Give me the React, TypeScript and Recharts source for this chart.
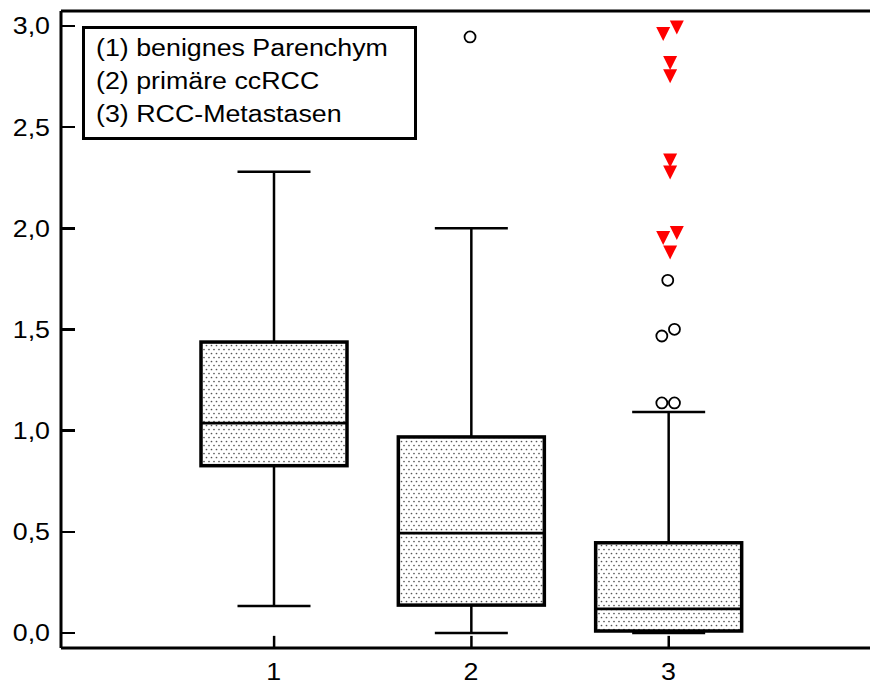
import {
  Bar,
  ComposedChart,
  ReferenceLine,
  Scatter,
  XAxis,
  YAxis,
} from 'recharts'

// box plot statistics per group
const groupX = [1, 2, 3]
const groupLabels = ['1', '2', '3']
const minVals = [0.133, 0.0, 0.0]
const q1Vals = [0.827, 0.138, 0.01]
const medianVals = [1.037, 0.494, 0.119]
const q3Vals = [1.438, 0.969, 0.446]
const maxVals = [2.279, 2.0, 1.092]

// open circle outliers
const circleX = [1.993, 2.965, 3.029, 2.965, 3.029, 2.995]
const circleY = [2.946, 1.137, 1.137, 1.468, 1.501, 1.743]

// red triangle extremes
const triX = [2.972, 3.041, 3.007, 3.007, 3.007, 3.007, 2.972, 3.041, 3.007]
const triY = [2.96, 2.993, 2.817, 2.752, 2.335, 2.276, 1.952, 1.977, 1.881]

const yTicks = [0, 0.5, 1, 1.5, 2, 2.5, 3]
const yTickLabels = ['0,0', '0,5', '1,0', '1,5', '2,0', '2,5', '3,0']

const legendLines = ['(1) benignes Parenchym', '(2) primäre ccRCC', '(3) RCC-Metastasen']

const Y_DOMAIN: [number, number] = [-0.074, 3.074]
const X_DOMAIN: [number, number] = [-0.08, 4.02]
// inward x tick length in axis units (~12px)
const X_TICK_LEN = 0.06

const WIDTH = 870
const HEIGHT = 686
const MARGIN_TOP = 11
const AXIS_W = 61
const AXIS_H = 38
const PLOT_H = HEIGHT - MARGIN_TOP - AXIS_H
const FONT = '"Liberation Sans", Arial, sans-serif'
const FONT_SIZE = 23.5
const STRETCH = 1.14

const boxData = groupX.map((x, i) => ({
  x,
  label: groupLabels[i],
  min: minVals[i],
  q1: q1Vals[i],
  median: medianVals[i],
  q3: q3Vals[i],
  max: maxVals[i],
}))

const circleData = circleX.map((x, i) => ({ x, y: circleY[i] }))
const triData = triX.map((x, i) => ({ x, y: triY[i] }))

// same linear mapping as the y axis, used for the inward tick marks overlay
const yPix = (v: number) =>
  MARGIN_TOP + ((Y_DOMAIN[1] - v) / (Y_DOMAIN[1] - Y_DOMAIN[0])) * PLOT_H

function BoxShape(props: any) {
  const { x, y, width, height, payload } = props
  const { min, q1, median, q3, max } = payload
  const span = max - min
  const py = (v: number) => y + (height * (max - v)) / span
  const cx = x + width / 2
  const cap = width / 4
  return (
    <g>
      <line x1={cx} x2={cx} y1={py(max)} y2={py(q3)} stroke="#000" strokeWidth={2.5} />
      <line x1={cx} x2={cx} y1={py(q1)} y2={py(min)} stroke="#000" strokeWidth={2.5} />
      <line x1={cx - cap} x2={cx + cap} y1={py(max)} y2={py(max)} stroke="#000" strokeWidth={2.5} />
      <line x1={cx - cap} x2={cx + cap} y1={py(min)} y2={py(min)} stroke="#000" strokeWidth={2.5} />
      <rect
        x={x}
        y={py(q3)}
        width={width}
        height={py(q1) - py(q3)}
        fill="url(#dotFill)"
        stroke="#000"
        strokeWidth={3.5}
      />
      <line x1={x} x2={x + width} y1={py(median)} y2={py(median)} stroke="#000" strokeWidth={2.8} />
    </g>
  )
}

function YTick(props: any) {
  const x = Number(props.x)
  const y = Number(props.y)
  const idx = yTicks.indexOf(props.payload.value)
  return (
    <text
      transform={`translate(${x},${y}) scale(${STRETCH},1)`}
      textAnchor="end"
      dominantBaseline="central"
      fontFamily={FONT}
      fontSize={FONT_SIZE}
      fill="#000"
    >
      {idx >= 0 ? yTickLabels[idx] : props.payload.value}
    </text>
  )
}

function XTick(props: any) {
  const x = Number(props.x)
  const y = Number(props.y)
  return (
    <text
      transform={`translate(${x},${y}) scale(${STRETCH},1)`}
      textAnchor="middle"
      dominantBaseline="central"
      fontFamily={FONT}
      fontSize={FONT_SIZE}
      fill="#000"
    >
      {props.payload.value}
    </text>
  )
}

const circleShape = (p: any) => (
  <circle cx={p.cx} cy={p.cy} r={5.5} fill="#fff" stroke="#000" strokeWidth={1.8} />
)

const triangleShape = (p: any) => (
  <polygon
    points={`${p.cx - 7},${p.cy - 7} ${p.cx + 7},${p.cy - 7} ${p.cx},${p.cy + 7}`}
    fill="#ff0000"
  />
)

export default function App() {
  return (
    <div style={{ position: 'absolute', left: 0, top: 0, width: WIDTH, height: HEIGHT, background: '#fff' }}>
      <ComposedChart
        width={WIDTH}
        height={HEIGHT}
        data={boxData}
        margin={{ top: MARGIN_TOP, right: 0, bottom: 0, left: 0 }}
      >
        <defs>
          <pattern id="dotFill" width={5} height={8} patternUnits="userSpaceOnUse">
            <rect width={5} height={8} fill="#fff" />
            <circle cx={1.5} cy={1.5} r={0.85} fill="#555" />
            <circle cx={4} cy={5.5} r={0.85} fill="#555" />
          </pattern>
        </defs>
        <XAxis
          dataKey="label"
          type="category"
          padding={{ left: 114, right: 103 }}
          height={AXIS_H}
          tickLine={false}
          tickSize={-12}
          tickMargin={36}
          axisLine={{ stroke: '#000', strokeWidth: 3 }}
          tick={<XTick />}
        />
        <XAxis xAxisId="num" dataKey="x" type="number" domain={X_DOMAIN} allowDataOverflow hide />
        <YAxis
          type="number"
          domain={Y_DOMAIN}
          ticks={yTicks}
          allowDataOverflow
          width={AXIS_W}
          tickLine={false}
          tickSize={-14}
          tickMargin={25}
          axisLine={{ stroke: '#000', strokeWidth: 3 }}
          tick={<YTick />}
        />
        <ReferenceLine y={Y_DOMAIN[1]} stroke="#000" strokeWidth={3} ifOverflow="visible" />
        {groupX.map((g) => (
          <ReferenceLine
            key={`xt${g}`}
            xAxisId="num"
            segment={[
              { x: g, y: Y_DOMAIN[0] },
              { x: g, y: Y_DOMAIN[0] + X_TICK_LEN },
            ]}
            stroke="#000"
            strokeWidth={2.5}
            ifOverflow="visible"
          />
        ))}
        <Bar
          dataKey={(d: any) => [d.min, d.max]}
          barSize={146}
          shape={(p: any) => <BoxShape {...p} />}
          isAnimationActive={false}
        />
        <Scatter xAxisId="num" data={circleData} dataKey="y" shape={circleShape} isAnimationActive={false} />
        <Scatter xAxisId="num" data={triData} dataKey="y" shape={triangleShape} isAnimationActive={false} />
      </ComposedChart>
      {yTicks.map((v) => (
        <div
          key={`ytm${v}`}
          style={{
            position: 'absolute',
            left: AXIS_W,
            top: yPix(v) - 1.25,
            width: 14,
            height: 2.5,
            background: '#000',
          }}
        />
      ))}
      <div
        style={{
          position: 'absolute',
          left: 82,
          top: 26,
          width: 335,
          height: 114,
          boxSizing: 'border-box',
          border: '3px solid #000',
          background: '#fff',
          paddingTop: 3,
          paddingLeft: 10.5,
          fontFamily: FONT,
          fontSize: FONT_SIZE,
          lineHeight: '33px',
          color: '#000',
        }}
      >
        {legendLines.map((t) => (
          <div
            key={t}
            style={{ whiteSpace: 'nowrap', transform: `scaleX(${STRETCH})`, transformOrigin: 'left center' }}
          >
            {t}
          </div>
        ))}
      </div>
    </div>
  )
}
